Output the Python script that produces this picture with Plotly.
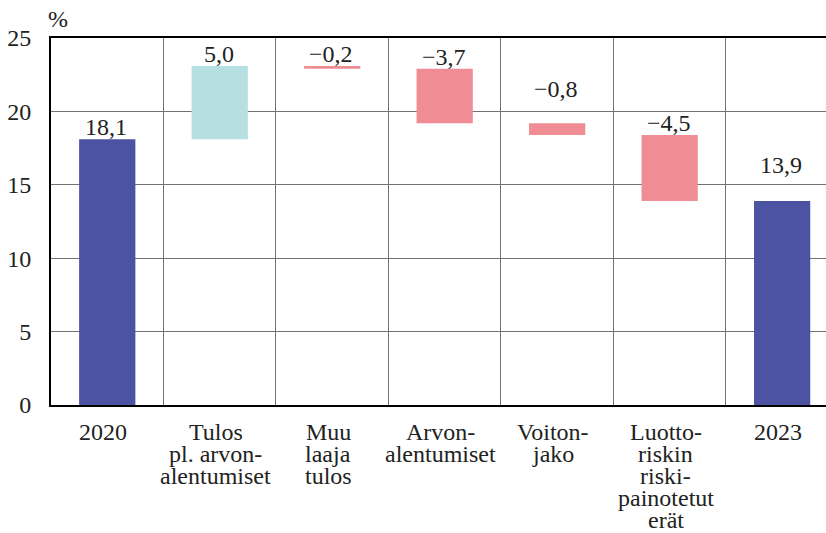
import plotly.graph_objects as go

# ---- data ----
categories = ["2020", "Tulos\npl. arvon-\nalentumiset", "Muu\nlaaja\ntulos",
              "Arvon-\nalentumiset", "Voiton-\njako",
              "Luotto-\nriskin\nriski-\npainotetut\nerät", "2023"]
values = [18.1, 5.0, -0.2, -3.7, -0.8, -4.5, 13.9]
measures = ["absolute", "relative", "relative", "relative", "relative", "relative", "total"]
value_labels = ["18,1", "5,0", "−0,2", "−3,7", "−0,8", "−4,5", "13,9"]
y_ticks = [0, 5, 10, 15, 20, 25]
unit_label = "%"
source_text = "Lähde: Finanssivalvonta ja Suomen Pankin laskelmat."

# ---- style ----
label_lift = [0, 0, 0, 0, 22, 0, 24]
FONT = "'Liberation Serif', 'Times New Roman', Tinos, serif"
FS = 24
TXT = "#222222"
GRID = "#727272"
C_TOTAL = "#4C53A3"
C_UP = "#B6DFE1"
C_DOWN = "#F08C94"

x_idx = list(range(len(categories)))

fig = go.Figure(go.Waterfall(
    x=x_idx, y=values, measure=measures,
    width=0.5,
    connector=dict(visible=False),
    increasing=dict(marker=dict(color=C_UP)),
    decreasing=dict(marker=dict(color=C_DOWN)),
    totals=dict(marker=dict(color=C_TOTAL)),
    hoverinfo="skip",
))

# bar tops computed from data
tops = []
cum = 0.0
for v, m in zip(values, measures):
    if m == "absolute":
        cum = v
        tops.append(v)
    elif m == "total":
        tops.append(cum)
    else:
        tops.append(max(cum, cum + v))
        cum += v

annotations = []
for i, (t, lab, lift) in enumerate(zip(tops, value_labels, label_lift)):
    annotations.append(dict(x=i, y=t, xref="x", yref="y", text=lab, showarrow=False,
                            yanchor="bottom", yshift=-3 + lift, xshift=-1,
                            font=dict(family=FONT, size=FS, color=TXT)))

for i, cat in enumerate(categories):
    for j, line in enumerate(cat.split("\n")):
        annotations.append(dict(x=i, y=0, xref="x", yref="y", text=line, showarrow=False,
                                yanchor="middle", yshift=-(27 + 22 * j), xshift=-4,
                                font=dict(family=FONT, size=FS, color=TXT)))

annotations.append(dict(x=0, y=1, xref="paper", yref="paper", text=unit_label,
                        showarrow=False, xanchor="left", yanchor="bottom",
                        xshift=-5, yshift=4,
                        font=dict(family=FONT, size=FS, color=TXT)))
annotations.append(dict(x=0, y=-0.336, xref="paper", yref="paper", text=source_text,
                        showarrow=False, xanchor="left", yanchor="top",
                        xshift=-5,
                        font=dict(family=FONT, size=FS, color=TXT)))

n = len(categories)
fig.update_layout(
    width=826, height=533,
    margin=dict(l=51, r=0, t=38, b=128),
    paper_bgcolor="white", plot_bgcolor="white",
    showlegend=False,
    font=dict(family=FONT, size=FS, color=TXT),
    annotations=annotations,
    xaxis=dict(range=[-0.5, n - 0.61], tickvals=[k + 0.5 for k in range(n - 1)],
               showticklabels=False, ticks="", showgrid=True, gridcolor=GRID, gridwidth=1,
               showline=True, linecolor="black", linewidth=2, mirror=True,
               zeroline=False, fixedrange=True),
    yaxis=dict(range=[0, 25], tickvals=y_ticks, ticks="", showgrid=True,
               gridcolor=GRID, gridwidth=1, showline=True, linecolor="black",
               linewidth=2, zeroline=False, ticklabelstandoff=13,
               tickfont=dict(family=FONT, size=FS, color=TXT), fixedrange=True),
)

fig.write_html("out.html", config={"displayModeBar": False},
               post_script="document.body.style.margin='0';")
